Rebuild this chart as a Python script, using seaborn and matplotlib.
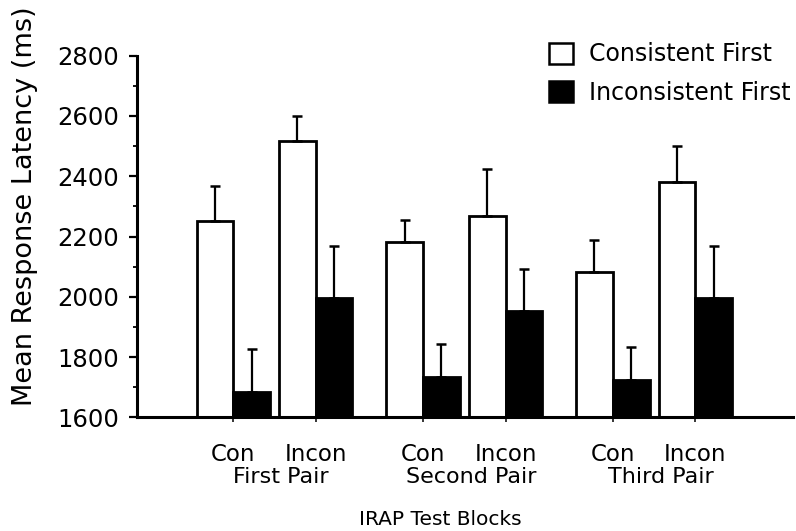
import numpy as np
import pandas as pd
import matplotlib
matplotlib.use("Agg")
import matplotlib.pyplot as plt
from matplotlib.patches import Patch
import seaborn as sns

# Values
blocks = ["Con", "Incon", "Con", "Incon", "Con", "Incon"]
pairs = ["First Pair", "Second Pair", "Third Pair"]
series = ["Consistent First", "Inconsistent First"]
consistent_first = [2250, 2517, 2181, 2268, 2081, 2381]
consistent_err = [118, 82, 75, 155, 106, 119]
inconsistent_first = [1685, 1996, 1735, 1953, 1723, 1996]
inconsistent_err = [141, 173, 107, 140, 109, 173]

# Layout: pairs are grouped, with a wider gap between pairs
positions = [0, 1, 2.3, 3.3, 4.6, 5.6]
bar_width = 0.89

df = pd.DataFrame({
    "pos": positions * 2,
    "latency": consistent_first + inconsistent_first,
    "series": [series[0]] * 6 + [series[1]] * 6,
})

sns.set_style("ticks")
plt.rcParams["font.family"] = ["DejaVu Sans"]
for key in ["text.color", "axes.labelcolor", "xtick.color", "ytick.color", "axes.edgecolor"]:
    plt.rcParams[key] = "black"

fig = plt.figure(figsize=(7.96, 5.31), dpi=100)
ax = fig.add_axes([0.1717, 0.2141, 0.8245, 0.681])

sns.barplot(data=df, x="pos", y="latency", hue="series", hue_order=series,
            native_scale=True, palette={series[0]: "white", series[1]: "black"},
            edgecolor="black", linewidth=2.0, width=bar_width, errorbar=None,
            legend=False, ax=ax)

# upward-only error bars
offset = bar_width / 4
pos = np.array(positions)
for vals, errs, shift in [(consistent_first, consistent_err, -offset),
                          (inconsistent_first, inconsistent_err, offset)]:
    ax.errorbar(pos + shift, vals, yerr=[np.zeros(len(errs)), errs], fmt="none",
                ecolor="black", elinewidth=1.6, capsize=3.4, capthick=1.8, zorder=3)

ax.set_ylim(1600, 2800)
ax.set_yticks(np.arange(1600, 2801, 200))
ax.set_yticks(np.arange(1700, 2800, 200), minor=True)
ax.set_xlim(-1.171, 6.784)
ax.set_xticks(positions)
ax.set_xticklabels(blocks, fontsize=16.5)
ax.tick_params(axis="y", which="major", length=5.8, width=1.6, pad=7, labelsize=17.5)
ax.tick_params(axis="y", which="minor", length=3, width=1.3)
ax.tick_params(axis="x", length=3.5, width=1.1, pad=15)

for side in ["left", "bottom"]:
    ax.spines[side].set_linewidth(2.2)
sns.despine(ax=ax)

# pair names under the Con / Incon labels
for i, name in enumerate(pairs):
    mid = (positions[2 * i] + positions[2 * i + 1]) / 2 + 0.08
    ax.text(mid, -0.165, name, transform=ax.get_xaxis_transform(),
            ha="center", va="center", fontsize=16)

ax.set_ylabel("")
fig.text(25 / 796, 1 - 206 / 531, "Mean Response Latency (ms)", rotation=90,
         ha="center", va="center", fontsize=19.5)
ax.set_xlabel("IRAP Test Blocks", fontsize=14.5)
ax.xaxis.set_label_coords(0.462, -0.256)

handles = [Patch(facecolor="white", edgecolor="black", linewidth=1.8),
           Patch(facecolor="black", edgecolor="black", linewidth=1.8)]
fig.legend(handles, series, loc="upper left", bbox_to_anchor=(0.6897, 0.92),
           frameon=False, fontsize=17, handlelength=1.0, handleheight=1.0,
           handletextpad=0.7, labelspacing=0.6, borderpad=0, borderaxespad=0)

fig.savefig("out.png", dpi=100)
